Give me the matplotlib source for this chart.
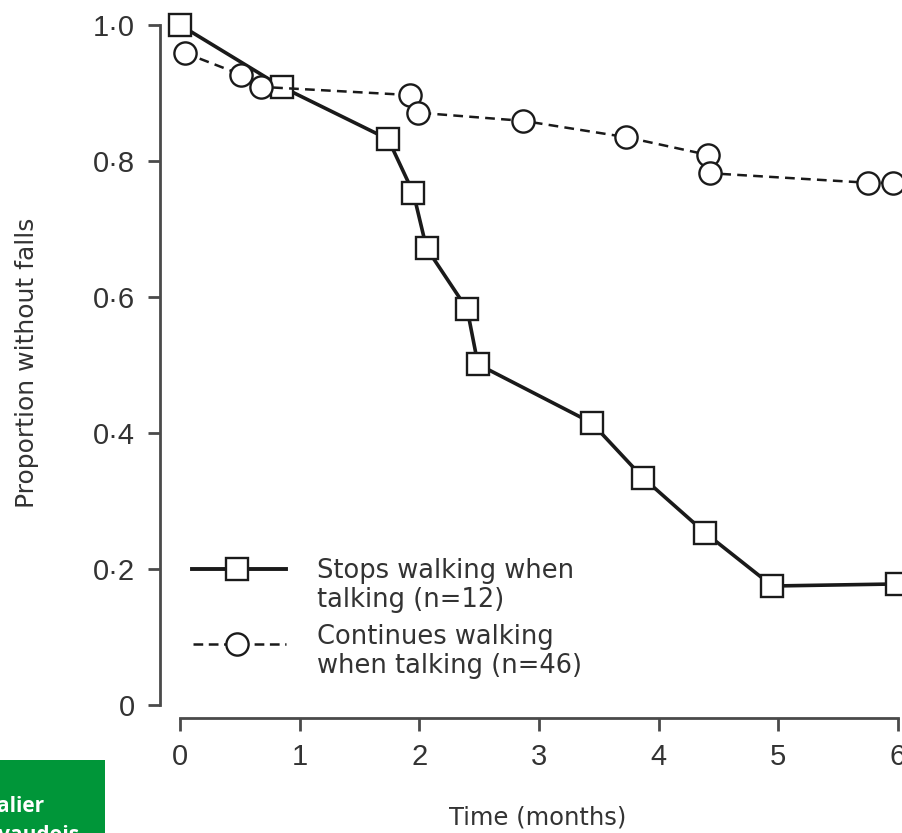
import matplotlib
matplotlib.use("Agg")
import matplotlib.pyplot as plt
from matplotlib.lines import Line2D
from matplotlib.patches import Rectangle

# ---- data ----
stops_x = [0.0, 0.85, 1.74, 1.95, 2.06, 2.40, 2.49, 3.44, 3.87, 4.39, 4.95, 5.99]
stops_y = [1.0, 0.909, 0.832, 0.753, 0.672, 0.582, 0.501, 0.415, 0.334, 0.253, 0.175, 0.178]
cont_x = [0.04, 0.51, 0.68, 1.92, 1.99, 2.87, 3.73, 4.41, 4.43, 5.75, 5.96]
cont_y = [0.959, 0.927, 0.909, 0.897, 0.871, 0.859, 0.835, 0.809, 0.782, 0.768, 0.768]
x_ticks = [0, 1, 2, 3, 4, 5, 6]
x_ticklabels = ["0", "1", "2", "3", "4", "5", "6"]
y_ticks = [0, 0.2, 0.4, 0.6, 0.8, 1.0]
y_ticklabels = ["0", "0·2", "0·4", "0·6", "0·8", "1·0"]
stops_label = "Stops walking when\ntalking (n=12)"
cont_label = "Continues walking\nwhen talking (n=46)"
x_label = "Time (months)"
y_label = "Proportion without falls"

W, H = 902, 833
plt.rcParams['lines.scale_dashes'] = False
fig = plt.figure(figsize=(W / 100, H / 100), dpi=100)
fig.patch.set_facecolor("white")

def fx(px):
    return px / W

def fy(py):
    return 1 - py / H

ax = fig.add_axes([fx(180), fy(705), (898 - 180) / W, 680 / H])
ax.set_xlim(0, 6)
ax.set_ylim(0, 1)

line_col = "#1a1a1a"
axis_col = "#4a4a4a"
txt_col = "#333333"

ax.plot(stops_x, stops_y, color=line_col, lw=2.6, marker="s", ms=15.5,
        mfc="white", mec=line_col, mew=1.7, clip_on=False, zorder=3)
ax.plot(cont_x, cont_y, color=line_col, lw=1.8, dashes=(7, 4.5), marker="o",
        ms=16, mfc="white", mec=line_col, mew=1.7, clip_on=False, zorder=4)

for s in ["top", "right"]:
    ax.spines[s].set_visible(False)
ax.spines["left"].set_position(("outward", 14.4))
ax.spines["bottom"].set_position(("outward", 9.4))
ax.spines["left"].set_bounds(0, 1)
ax.spines["bottom"].set_bounds(0, 6)
for s in ["left", "bottom"]:
    ax.spines[s].set_color(axis_col)
    ax.spines[s].set_linewidth(2.0)

ax.set_xticks(x_ticks)
ax.set_xticklabels(x_ticklabels)
ax.set_yticks(y_ticks)
ax.set_yticklabels(y_ticklabels)
ax.tick_params(axis="both", direction="out", length=9, width=2.0, color=axis_col,
               labelsize=21, labelcolor=txt_col, pad=9)
for t in ax.get_xticklabels() + ax.get_yticklabels():
    t.set_fontfamily("Liberation Sans")

fig.text(fx(27), fy(363), y_label, rotation=90, ha="center", va="center",
         fontsize=18, color=txt_col, family="DejaVu Sans")
fig.text(fx(538), fy(817), x_label, ha="center", va="center",
         fontsize=17.5, color=txt_col, family="DejaVu Sans")

# ---- legend (drawn manually) ----
h1 = Line2D([fx(192), fx(286)], [fy(569), fy(569)], transform=fig.transFigure,
            color=line_col, lw=2.8)
m1 = Line2D([fx(237)], [fy(569)], transform=fig.transFigure, marker="s", ms=15.5,
            mfc="white", mec=line_col, mew=1.7, lw=0)
h2 = Line2D([fx(193), fx(286)], [fy(644), fy(644)], transform=fig.transFigure,
            color=line_col, lw=1.8, dashes=(7, 4))
m2 = Line2D([fx(237)], [fy(644)], transform=fig.transFigure, marker="o", ms=16,
            mfc="white", mec=line_col, mew=1.7, lw=0)
for a in (h1, m1, h2, m2):
    fig.add_artist(a)
fig.text(fx(317), fy(558), stops_label, ha="left", va="top", fontsize=18.5,
         color=txt_col, family="DejaVu Sans", linespacing=1.17)
fig.text(fx(317), fy(624), cont_label, ha="left", va="top", fontsize=18.5,
         color=txt_col, family="DejaVu Sans", linespacing=1.17)

# ---- cropped logo box at bottom-left ----
fig.add_artist(Rectangle((0, 0), fx(105), (833 - 760) / H,
                         transform=fig.transFigure, facecolor="#009639",
                         edgecolor="none", zorder=5))
fig.text(fx(44), fy(812), "Centre hospitalier", ha="right", va="baseline",
         fontsize=15, fontweight="bold", color="white", family="Open Sans", zorder=6)
fig.text(fx(79), fy(841), "universitaire vaudois", ha="right", va="baseline",
         fontsize=15, fontweight="bold", color="white", family="Open Sans", zorder=6)

fig.savefig("out.png", dpi=100, facecolor="white")
